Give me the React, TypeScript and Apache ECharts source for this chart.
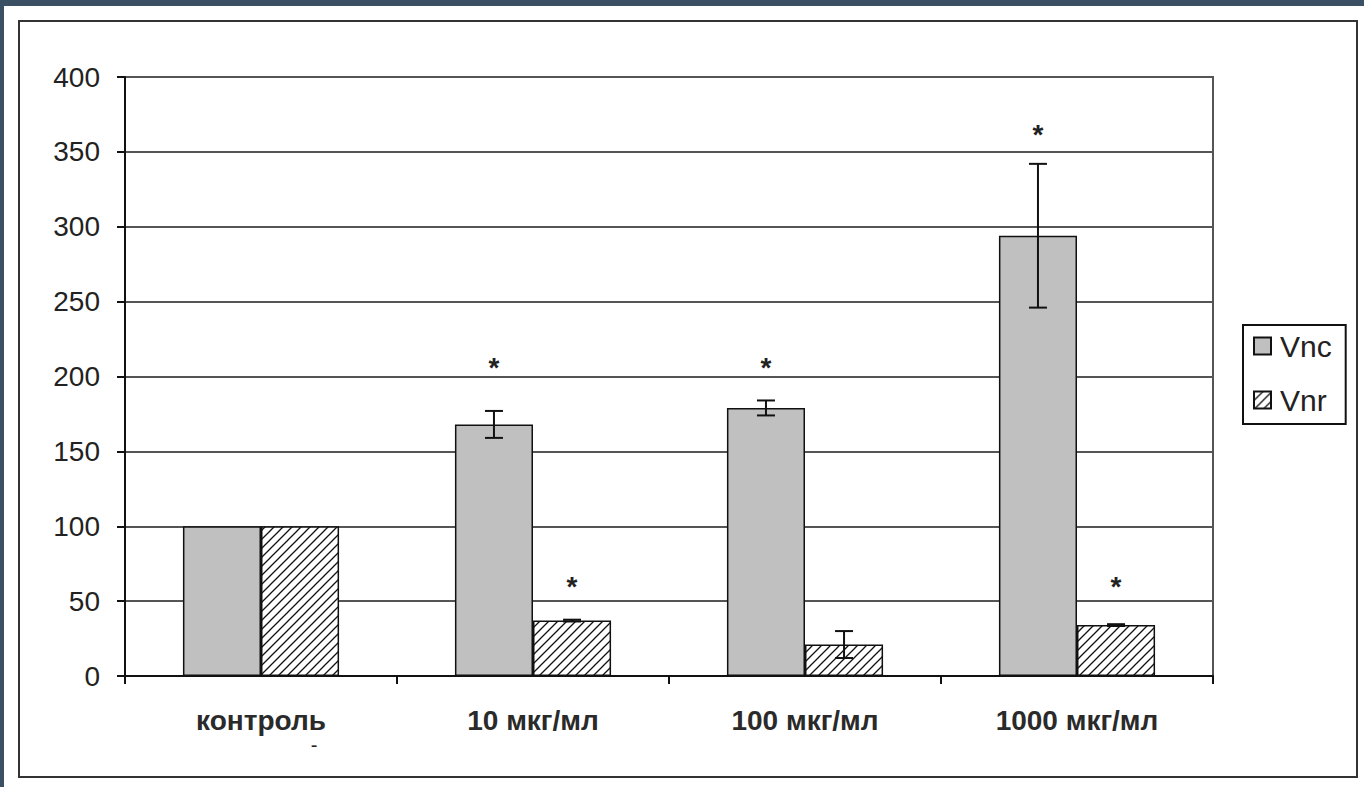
import React, { useEffect, useRef } from 'react';
import * as echarts from 'echarts';

const categories = ['контроль', '10 мкг/мл', '100 мкг/мл', '1000 мкг/мл'];
const seriesNames = ['Vnc', 'Vnr'];
const vncValues = [100, 168, 179, 294];
const vnrValues = [100, 37, 21, 34];
const vncErrors = [0, 9, 5, 48];
const vnrErrors = [0, 0.6, 9, 0.6];
const vncStars: (number | null)[] = [null, 211, 211, 367];
const vnrStars: (number | null)[] = [null, 65, null, 65];
const yMin = 0;
const yMax = 400;
const yInterval = 50;

const GAP = 0.426;
const FONT = '"Liberation Sans", Arial, sans-serif';
const FS = 28;

function makeHatch() {
  const s = 9;
  const c = document.createElement('canvas');
  c.width = s;
  c.height = s;
  const ctx = c.getContext('2d')!;
  ctx.fillStyle = '#ffffff';
  ctx.fillRect(0, 0, s, s);
  ctx.strokeStyle = '#111111';
  ctx.lineWidth = 1.3;
  ctx.beginPath();
  ctx.moveTo(0, s);
  ctx.lineTo(s, 0);
  ctx.moveTo(-2, 2);
  ctx.lineTo(2, -2);
  ctx.moveTo(s - 2, s + 2);
  ctx.lineTo(s + 2, s - 2);
  ctx.stroke();
  return { image: c, repeat: 'repeat', imageWidth: s, imageHeight: s } as any;
}

export default function App() {
  const ref = useRef<HTMLDivElement>(null);
  useEffect(() => {
    if (!ref.current) return;
    const chart = echarts.init(ref.current, null, { renderer: 'svg' });
    const hatch = makeHatch();

    const errData = (vals: number[], errs: number[]) =>
      vals.map((v, i) => [i, v, errs[i]]).filter((d) => d[2] > 0);
    const starData = (stars: (number | null)[]) =>
      stars.map((v, i) => (v == null ? null : [i, v])).filter((d) => d != null);

    const errRender = (side: number) => (params: any, api: any) => {
      const ci = api.value(0);
      const v = api.value(1);
      const e = api.value(2);
      const band = api.size([1, 0])[0];
      const bw = (band * (1 - GAP)) / 2;
      const c = api.coord([ci, v]);
      const x = c[0] + (side * bw) / 2;
      const top = api.coord([ci, v + e])[1];
      const bot = api.coord([ci, v - e])[1];
      const cap = 9;
      const st = { stroke: '#111', lineWidth: 2 };
      return {
        type: 'group',
        children: [
          { type: 'line', shape: { x1: x, y1: top, x2: x, y2: bot }, style: st },
          { type: 'line', shape: { x1: x - cap, y1: top, x2: x + cap, y2: top }, style: st },
          { type: 'line', shape: { x1: x - cap, y1: bot, x2: x + cap, y2: bot }, style: st },
        ],
      };
    };
    const starRender = (side: number) => (params: any, api: any) => {
      const ci = api.value(0);
      const v = api.value(1);
      const band = api.size([1, 0])[0];
      const bw = (band * (1 - GAP)) / 2;
      const c = api.coord([ci, v]);
      return {
        type: 'text',
        x: c[0] + (side * bw) / 2,
        y: c[1] + FS * 0.28,
        style: {
          text: '*',
          fontSize: FS,
          fontWeight: 'bold',
          fontFamily: FONT,
          fill: '#222',
          textAlign: 'center',
          textVerticalAlign: 'middle',
        },
      };
    };

    chart.setOption({
      animation: false,
      backgroundColor: '#ffffff',
      textStyle: { fontFamily: FONT },
      grid: {
        left: 125,
        right: 151,
        top: 77,
        bottom: 111,
        show: true,
        borderColor: '#555',
        borderWidth: 2,
        backgroundColor: 'transparent',
      },
      legend: {
        data: seriesNames,
        orient: 'vertical',
        left: 1243,
        top: 325,
        itemWidth: 17,
        itemHeight: 17,
        itemGap: 24,
        icon: 'rect',
        padding: [6, 14, 9, 10],
        borderColor: '#111',
        borderWidth: 2,
        textStyle: { fontSize: 30, color: '#222', fontFamily: FONT, padding: [0, 0, 0, 4] },
      },
      xAxis: {
        type: 'category',
        data: categories,
        axisLine: { lineStyle: { color: '#111', width: 2 } },
        axisTick: { show: true, length: 8, lineStyle: { color: '#111', width: 2 } },
        axisLabel: { fontSize: FS, fontWeight: 'bold', color: '#2a2a2a', margin: 30, fontFamily: FONT },
        splitLine: { show: false },
      },
      yAxis: {
        type: 'value',
        min: yMin,
        max: yMax,
        interval: yInterval,
        axisLine: { show: true, lineStyle: { color: '#111', width: 2 } },
        axisTick: { show: true, length: 8, lineStyle: { color: '#111', width: 2 } },
        axisLabel: { fontSize: FS, color: '#222', margin: 25, fontFamily: FONT },
        splitLine: { show: true, lineStyle: { color: '#555', width: 2 } },
      },
      graphic: [
        { type: 'rect', shape: { x: 0, y: 0, width: 1364, height: 6 }, style: { fill: '#3b5163' }, z: 100 },
        { type: 'rect', shape: { x: 0, y: 0, width: 4, height: 787 }, style: { fill: '#3b5163' }, z: 100 },
        {
          type: 'rect',
          shape: { x: 19, y: 21, width: 1338, height: 756 },
          style: { fill: 'none', stroke: '#333', lineWidth: 2 },
          z: 100,
        },
        {
          type: 'text',
          x: 314,
          y: 745,
          style: { text: '-', fontSize: 20, fill: '#222', textAlign: 'center', textVerticalAlign: 'middle', fontFamily: FONT },
        },
      ],
      series: [
        {
          name: seriesNames[0],
          type: 'bar',
          data: vncValues,
          barGap: '0%',
          barCategoryGap: GAP * 100 + '%',
          itemStyle: { color: '#c0c0c0', borderColor: '#111', borderWidth: 1.5 },
          z: 2,
        },
        {
          name: seriesNames[1],
          type: 'bar',
          data: vnrValues,
          barGap: '0%',
          barCategoryGap: GAP * 100 + '%',
          itemStyle: { color: hatch, borderColor: '#111', borderWidth: 1.5 },
          z: 2,
        },
        { type: 'custom', renderItem: errRender(-1), data: errData(vncValues, vncErrors), z: 5 },
        { type: 'custom', renderItem: errRender(1), data: errData(vnrValues, vnrErrors), z: 5 },
        { type: 'custom', renderItem: starRender(-1), data: starData(vncStars), z: 5 },
        { type: 'custom', renderItem: starRender(1), data: starData(vnrStars), z: 5 },
      ],
    });
    return () => chart.dispose();
  }, []);
  return (
    <div
      ref={ref}
      style={{ position: 'fixed', left: 0, top: 0, width: 1364, height: 787, background: '#fff' }}
    />
  );
}
